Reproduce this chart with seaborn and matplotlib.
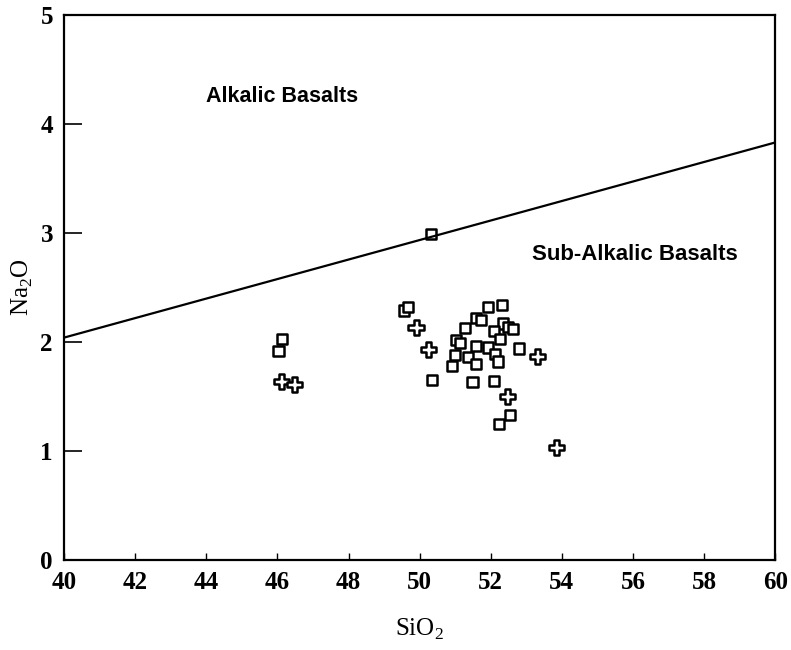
import pandas as pd
import matplotlib.pyplot as plt
import seaborn as sns

#--data--
sq_x = [52.31, 51.93, 51.59, 51.72, 51.28, 52.35, 52.09, 52.49, 52.62, 52.26,
        51.02, 51.14, 51.59, 51.92, 52.80, 51.00, 51.37, 52.12, 51.58, 52.20,
        50.92, 50.34, 51.49, 52.09, 52.54, 52.23,
        50.32, 49.56, 49.68, 46.12, 46.03]
sq_y = [2.34, 2.32, 2.22, 2.20, 2.13, 2.17, 2.10, 2.14, 2.12, 2.03,
        2.02, 1.99, 1.96, 1.95, 1.94, 1.88, 1.86, 1.89, 1.80, 1.82,
        1.78, 1.65, 1.63, 1.64, 1.33, 1.25,
        2.99, 2.29, 2.32, 2.03, 1.92]
cr_x = [49.90, 50.24, 53.31, 52.48, 53.86, 46.12, 46.48]
cr_y = [2.13, 1.93, 1.87, 1.50, 1.03, 1.64, 1.61]

line_x = [40, 60]
line_y = [2.04, 3.83]

df = pd.DataFrame({'SiO2': sq_x + cr_x,
                   'Na2O': sq_y + cr_y,
                   'type': ['square'] * len(sq_x) + ['cross'] * len(cr_x)})
bound = pd.DataFrame({'SiO2': line_x, 'Na2O': line_y})

sns.set_style('ticks')
plt.rcParams.update({'font.family': ['Liberation Serif', 'DejaVu Serif'],
                     'mathtext.fontset': 'custom',
                     'mathtext.rm': 'Liberation Serif',
                     'text.color': 'black',
                     'axes.labelcolor': 'black',
                     'axes.edgecolor': 'black',
                     'xtick.color': 'black',
                     'ytick.color': 'black',
                     'axes.linewidth': 1.6})

fig = plt.figure(figsize=(7.91, 6.50), dpi=100)
ax = fig.add_axes([0.081, 0.1385, 0.899, 0.8385])

sns.lineplot(data=bound, x='SiO2', y='Na2O', color='black', linewidth=1.6, ax=ax)
sns.scatterplot(data=df, x='SiO2', y='Na2O', style='type', size='type',
                markers={'square': 's', 'cross': 'P'},
                sizes={'square': 55, 'cross': 120},
                color='white', edgecolor='black', linewidth=1.8,
                legend=False, ax=ax)

ax.set_xlim(40, 60)
ax.set_ylim(0, 5)
ax.set_xticks(range(40, 61, 2))
ax.set_yticks(range(0, 6))
ax.tick_params(axis='x', direction='in', length=5, width=1, pad=8, labelsize=18)
ax.tick_params(axis='y', direction='in', length=13, width=1.2, pad=8, labelsize=18)
for lab in ax.get_xticklabels() + ax.get_yticklabels():
    lab.set_fontweight('bold')

ax.set_xlabel(r'SiO$_2$', fontsize=18, labelpad=16)
ax.set_ylabel(r'Na$_2$O', fontsize=18, labelpad=4)

ax.text(44.0, 4.25, 'Alkalic Basalts', family='Liberation Sans', fontsize=15.5,
        fontweight='bold', ha='left', va='center')
ax.text(53.15, 2.80, 'Sub-Alkalic Basalts', family='Liberation Sans', fontsize=16,
        fontweight='bold', ha='left', va='center')

fig.savefig('out.png', dpi=100)
